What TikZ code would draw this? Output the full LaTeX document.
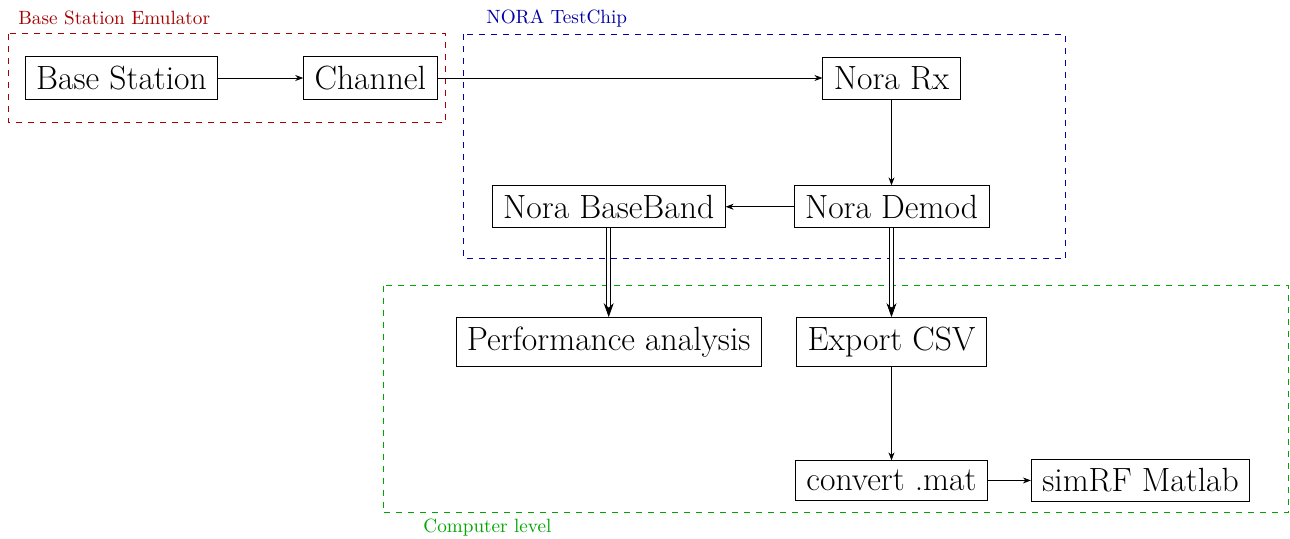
\documentclass[tikz,border=0pt]{standalone}
\usepackage{xcolor}
\usepackage{tikz}
\usetikzlibrary{arrows.meta,positioning}

\colorlet{emulred}{red!65!black}
\colorlet{chipblue}{blue!65!black}
\colorlet{pcgreen}{green!65!black}

\begin{document}
\begin{tikzpicture}[
    font=\fontsize{16.8}{20}\selectfont,
    box/.style={draw, inner xsep=5.5pt, inner ysep=4.6pt},
    frame/.style={dashed, line width=0.5pt},
    tag/.style={font=\fontsize{9.6}{11}\selectfont, anchor=west, inner sep=0pt},
    flow/.style={-{Stealth[length=4pt, width=3pt]}},
    data/.style={double, double distance=1.5pt, -{Stealth[length=7pt, width=5pt]}}
  ]
    \useasboundingbox (0,0) rectangle (645pt,-269pt);

    \node[box] (bs) at (60.75pt,-39pt) {Base Station};
    \node[box, right=42.5pt of bs]    (chan)   {Channel};
    \node[box, right=192.5pt of chan] (rx)     {Nora Rx};
    \node[box, below=43pt of rx]      (demod)  {Nora Demod};
    \node[box, left=34pt of demod]    (bb)     {Nora BaseBand};
    \node[box, below=44.5pt of bb]    (perf)   {Performance analysis};
    \node[box, below=44.5pt of demod] (csv)    {Export CSV};
    \node[box, below=47pt of csv]     (mat)    {convert .mat};
    \node[box, right=21.5pt of mat]   (simrf)  {simRF Matlab};

    % groups
    \draw[frame, emulred] ([shift={(-8.25pt,11.25pt)}]bs.north west)
      rectangle ([shift={(4.25pt,-11.25pt)}]chan.south east);
    \draw[frame, chipblue] ([shift={(-14.25pt,11.25pt)}]bb.west |- rx.north)
      rectangle ([shift={(38.25pt,-15.25pt)}]demod.south east);
    \draw[frame, pcgreen] ([shift={(-36.25pt,15.75pt)}]perf.north west)
      rectangle ([shift={(19.25pt,-5.25pt)}]simrf.south east);

    \node[tag, text=emulred]  (emultag) at (9pt,-9pt)        {Base Station Emulator};
    \node[tag, text=chipblue] (chiptag) at (243pt,-9pt)      {NORA TestChip};
    \node[tag, text=pcgreen]  (pctag)   at (211.5pt,-264pt)  {Computer level};

    \draw[flow] (bs) -- (chan);
    \draw[flow] (chan) -- (rx);
    \draw[flow] (rx) -- (demod);
    \draw[flow] (demod) -- (bb);
    \draw[data] (bb) -- (perf);
    \draw[data] (demod) -- (csv);
    \draw[flow] (csv) -- (mat);
    \draw[flow] (mat) -- (simrf);
  \end{tikzpicture}
\end{document}
